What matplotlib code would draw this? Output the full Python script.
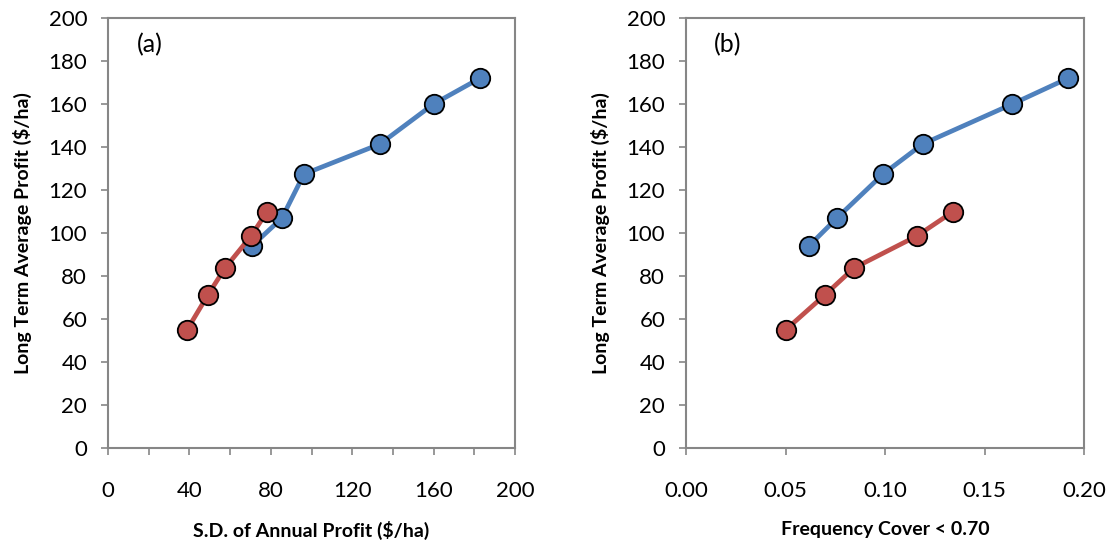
import numpy as np
import matplotlib
matplotlib.use("Agg")
import matplotlib.pyplot as plt
from matplotlib.ticker import MultipleLocator

plt.rcParams['font.family'] = ['Lato', 'DejaVu Sans']

# panel (a): S.D. of annual profit vs profit
sd_blue = [70.8, 85.5, 96.3, 133.7, 160.0, 182.8]
profit_blue = [94, 107, 127.4, 141.4, 160, 172]
sd_red = [38.8, 49.1, 57.5, 70.3, 78.1]
profit_red = [54.9, 71.2, 83.7, 98.6, 109.8]

# panel (b): frequency cover < 0.70 vs profit
freq_blue = [0.0618, 0.0759, 0.099, 0.119, 0.164, 0.192]
freq_red = [0.050, 0.0698, 0.0844, 0.116, 0.134]

blue = '#4F81BD'
red = '#C0504D'
grey = '#868686'

fig = plt.figure(figsize=(11.12, 5.52), dpi=100)
ax1 = fig.add_axes([108/1112, 104/552, 407/1112, 430/552])
ax2 = fig.add_axes([686/1112, 104/552, 398/1112, 430/552])


def draw(ax, xb, yb, xr, yr):
    ax.plot(xb, yb, color=blue, lw=3.4, marker='o', ms=14,
            mfc=blue, mec='black', mew=1.3, zorder=3)
    ax.plot(xr, yr, color=red, lw=3.4, marker='o', ms=14,
            mfc=red, mec='black', mew=1.3, zorder=4)
    ax.set_ylim(0, 200)
    ax.yaxis.set_major_locator(MultipleLocator(20))
    for s in ax.spines.values():
        s.set_color(grey)
        s.set_linewidth(1.5)
    ax.tick_params(colors=grey, width=1.2, length=5, labelsize=16,
                   labelcolor='black')
    ax.tick_params(axis='x', pad=19)
    ax.tick_params(axis='y', pad=10)
    ax.set_ylabel('Long Term Average Profit ($/ha)', fontsize=14,
                  fontweight='bold', labelpad=12)


draw(ax1, sd_blue, profit_blue, sd_red, profit_red)
ax1.set_xlim(0, 200)
ax1.xaxis.set_major_locator(MultipleLocator(40))
ax1.xaxis.set_minor_locator(MultipleLocator(20))
ax1.tick_params(axis='x', which='minor', colors=grey, width=1.2, length=5)
ax1.set_xlabel('S.D. of Annual Profit ($/ha)', fontsize=14,
               fontweight='bold', labelpad=14)
ax1.text(0.07, 0.92, '(a)', transform=ax1.transAxes, fontsize=18)

draw(ax2, freq_blue, profit_blue, freq_red, profit_red)
ax2.set_xlim(0, 0.20)
ax2.xaxis.set_major_locator(MultipleLocator(0.05))
ax2.xaxis.set_major_formatter(plt.FormatStrFormatter('%.2f'))
ax2.set_xlabel('Frequency Cover < 0.70', fontsize=14,
               fontweight='bold', labelpad=14)
ax2.text(0.07, 0.92, '(b)', transform=ax2.transAxes, fontsize=18)

fig.savefig('out.png', dpi=100)
